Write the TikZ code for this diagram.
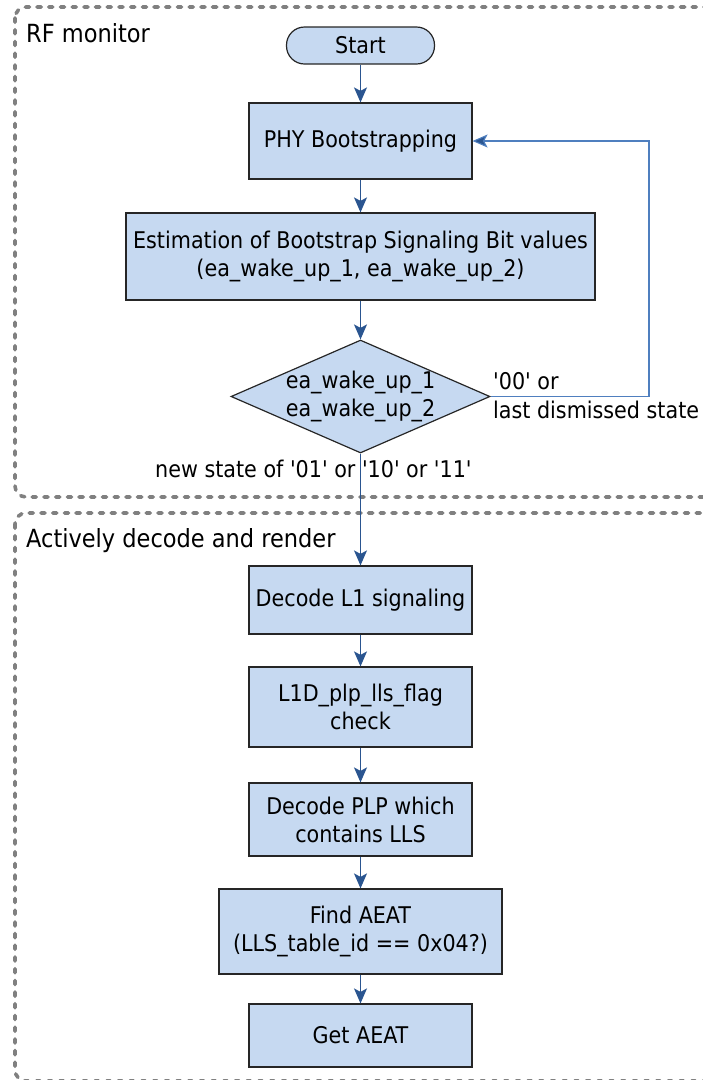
\documentclass[tikz,border=0pt]{standalone}
\usepackage{fontspec}
\newfontfamily\dvs{DejaVu Sans Condensed}
\usetikzlibrary{arrows.meta,shapes.geometric}
\definecolor{boxfill}{HTML}{C6D9F1}
\definecolor{arrowc}{HTML}{2A5590}
\definecolor{fbc}{HTML}{4F7FBF}
\definecolor{groupc}{HTML}{808080}
\definecolor{edgec}{HTML}{262626}
\tikzset{
  stepbox/.style={draw=edgec, line width=1.2pt, fill=boxfill, rectangle, inner sep=0pt,
    align=center, font=\dvs\fontsize{23}{28}\selectfont, minimum width=223pt},
  termbox/.style={stepbox, rounded corners=18pt, minimum width=148pt, minimum height=37pt},
  decbox/.style={draw=edgec, line width=1.2pt, fill=boxfill, diamond, inner sep=0pt,
    minimum width=259pt, minimum height=113pt},
  plaintext/.style={inner sep=0pt, align=left, font=\dvs\fontsize{23}{28}\selectfont},
  headtext/.style={inner sep=0pt, anchor=base west, font=\dvs\fontsize{25}{30}\selectfont},
  group/.style={draw=groupc, line width=3.6pt, dash pattern=on 4.2pt off 7.5pt,
    line cap=round, rounded corners=11pt},
  flow/.style={draw=arrowc, line width=1.3pt, -{Stealth[length=15pt,width=13pt,inset=3.5pt]}},
  backflow/.style={draw=fbc, line width=1.1pt, -{Stealth[length=15pt,width=13pt,inset=3.5pt,fill=arrowc]}}
}
\begin{document}
\begin{tikzpicture}[x=1pt,y=-1pt]
\useasboundingbox (0,0) rectangle (703,1080);
\clip (0,0) rectangle (703,1080);
% group frames
\draw[group] (15,7) rectangle (715,497);
\draw[group] (15,513) rectangle (715,1081);
\node[headtext] (h1) at (26,42) {RF monitor};
\node[headtext] (h2) at (26,547.5) {Actively decode and render};
% steps
\node[termbox] (start) at (360.5,45.5) {Start};
\node[stepbox, minimum height=76pt] (phy) at (360.5,141) {PHY Bootstrapping};
\node[stepbox, minimum width=469pt, minimum height=87pt] (est) at (360.5,256.5)
  {Estimation of Bootstrap Signaling Bit values\\(ea\_wake\_up\_1, ea\_wake\_up\_2)};
\node[decbox] (dec) at (360.5,396.5) {};
\node[plaintext, align=center] (dectext) at (dec.center) {ea\_wake\_up\_1\\ea\_wake\_up\_2};
\node[stepbox, minimum height=68pt] (l1) at (360.5,600) {Decode L1 signaling};
\node[stepbox, minimum height=80pt] (l1d) at (360.5,707) {L1D\_plp\_lls\_flag\\check};
\node[stepbox, minimum height=73pt] (plp) at (360.5,819.5) {Decode PLP which\\contains LLS};
\node[stepbox, minimum width=283pt, minimum height=85pt] (find) at (360.5,931.5)
  {Find AEAT\\(LLS\_table\_id == 0x04?)};
\node[stepbox, minimum height=63pt] (get) at (360.5,1035.5) {Get AEAT};
% labels
\node[plaintext, anchor=base west] (lab00) at (493,389) {'00' or};
\node[plaintext, anchor=base west] (labdis) at (493,418) {last dismissed state};
\node[plaintext, anchor=base west] (labnew) at (155,477) {new state of '01' or '10' or '11'};
% connectors
\coordinate (fbx) at (649,0);
\draw[flow] (start) -- (phy);
\draw[flow] (phy) -- (est);
\draw[flow] (est) -- (dec);
\draw[flow] (dec) -- (l1);
\draw[flow] (l1) -- (l1d);
\draw[flow] (l1d) -- (plp);
\draw[flow] (plp) -- (find);
\draw[flow] (find) -- (get);
\draw[backflow] (dec.east) -- (dec.east -| fbx) |- (phy.east);
\end{tikzpicture}
\end{document}
